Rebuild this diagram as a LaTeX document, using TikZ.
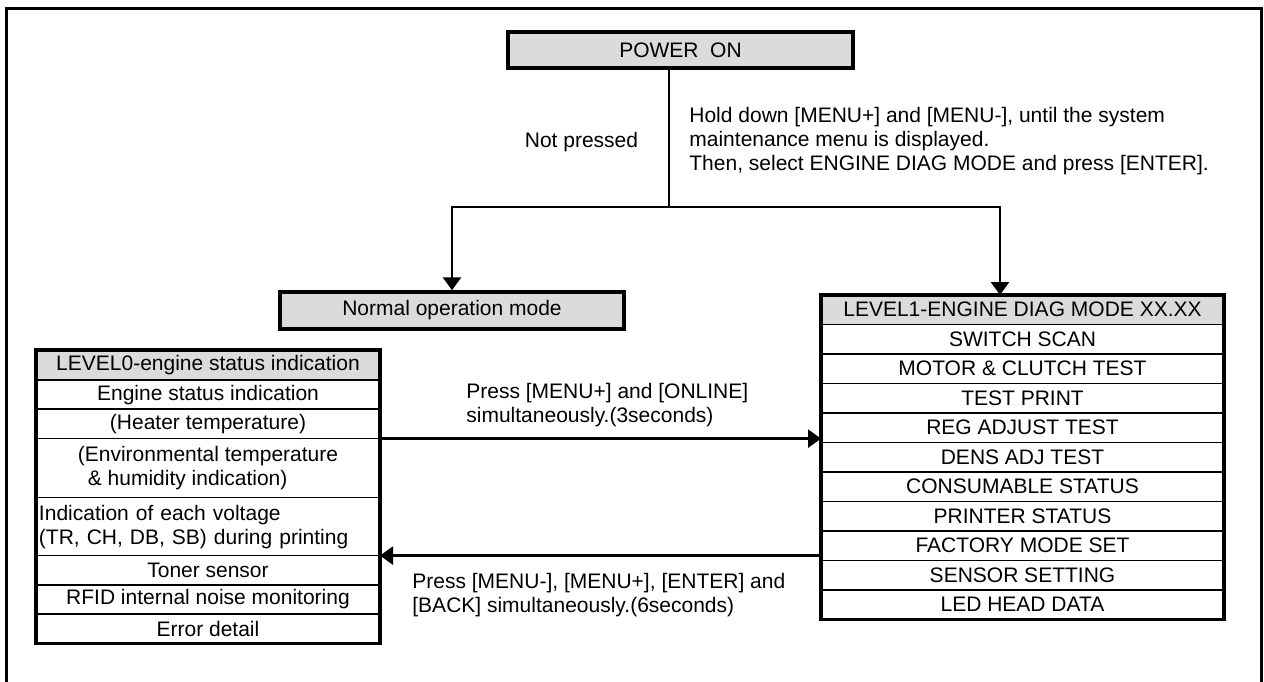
\documentclass[tikz,border=0pt]{standalone}
\usepackage{fontspec}
\setmainfont{Liberation Sans}
\usepackage{tikz}
\usetikzlibrary{positioning,arrows.meta,calc}

\begin{document}
\begin{tikzpicture}[
  x=0.5pt, y=-0.5pt,
  font=\fontsize{10.5}{12}\selectfont,
  frame/.style={line width=1.5pt},
  titlebox/.style={draw, fill=black!14, line width=1.7pt, minimum width=172.5pt, minimum height=18pt, inner sep=0pt},
  lrow/.style={draw, line width=0.85pt, minimum width=172pt, minimum height=14.65pt, inner sep=0pt, outer sep=0pt},
  drow/.style={draw, line width=0.85pt, minimum width=201.5pt, minimum height=14.75pt, inner sep=0pt, outer sep=0pt},
  hdr/.style={fill=black!14},
  tab/.style={line width=1.7pt},
  link/.style={line width=1.3pt},
  arrow/.style={-{Triangle[length=6.5pt,width=9pt]}, line width=1.3pt},
  note/.style={align=left, inner sep=0pt, anchor=west},
]
  \useasboundingbox (0,0) rectangle (1264,681);

  % outer frame (bottom edge runs off the page)
  \draw[frame] (6,700) -- (6,8) -- (1261,8) -- (1261,700);

  \node[titlebox] (PWR) at (680.5,50) {POWER\ \ ON};
  \node[titlebox, minimum width=172pt, minimum height=18.5pt] (NRM) at (452,310.5) {Normal operation mode};

  % LEVEL0 table
  \node[lrow, hdr, minimum height=15pt] (L0) at (208,365) {LEVEL0-engine status indication};
  \node[lrow, below=0pt of L0] (L1) {Engine status indication};
  \node[lrow, below=0pt of L1] (L2) {(Heater temperature)};
  \node[lrow, below=0pt of L2, minimum height=29.5pt, align=left] (L3)
    {(Environmental temperature\\\hspace*{5pt}\& humidity indication)};
  \node[lrow, below=0pt of L3, minimum height=29pt, align=left, text width=169pt, inner xsep=1.5pt] (L4)
    {Indication of each voltage\\(TR, CH, DB, SB) during printing};
  \node[lrow, below=0pt of L4] (L5) {Toner sensor};
  \node[lrow, below=0pt of L5] (L6) {RFID internal noise monitoring};
  \node[lrow, below=0pt of L6] (L7) {Error detail};
  \draw[tab] (L0.north west) rectangle (L7.south east);

  % LEVEL1 table
  \node[drow, hdr] (D0) at (1022.5,309.75) {LEVEL1-ENGINE DIAG MODE XX.XX};
  \foreach \txt [count=\i] in {SWITCH SCAN, MOTOR \& CLUTCH TEST, TEST PRINT,
      REG ADJUST TEST, DENS ADJ TEST, CONSUMABLE STATUS, PRINTER STATUS,
      FACTORY MODE SET, SENSOR SETTING, LED HEAD DATA}
    \node[drow] (D\i) at (1022.5,{295+29.5*(\i+0.5)}) {\txt};
  \draw[tab] (D0.north west) rectangle (D10.south east);

  % branch from POWER ON
  \coordinate (SPL) at (669,207);
  \draw[link] (SPL |- PWR.south) -- (SPL);
  \draw[arrow] (SPL) -| (NRM.north);
  \draw[arrow] (SPL) -| ([xshift=89.5pt]D0.north west);

  \node at (581.5,142) (NP) {Not pressed};
  \node[note] (HLD) at (689,141)
    {Hold down [MENU+] and [MENU-], until the system\\maintenance menu is displayed.\\Then, select ENGINE DIAG MODE and press [ENTER].};

  % level changes
  \draw[arrow] (L2.south east) -- (L2.south east -| D0.west);
  \draw[arrow] (L4.south east -| D0.west) -- (L4.south east);
  \node[note] (GO1) at (466,405.5) {Press [MENU+] and [ONLINE]\\simultaneously.(3seconds)};
  \node[note] (GO0) at (412,595) {Press [MENU-], [MENU+], [ENTER] and\\{}[BACK] simultaneously.(6seconds)};
\end{tikzpicture}
\end{document}
